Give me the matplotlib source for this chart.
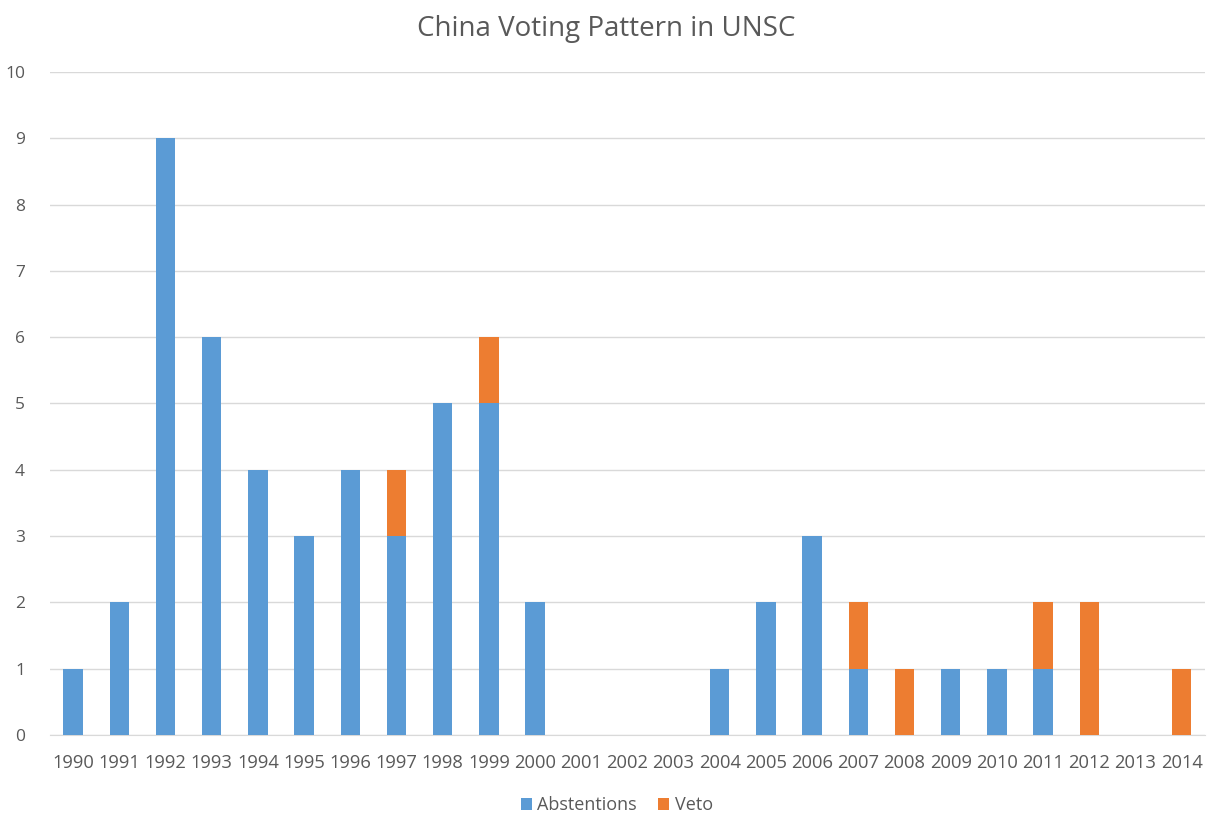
import matplotlib
matplotlib.use("Agg")
import matplotlib.pyplot as plt
import numpy as np

years = [str(y) for y in range(1990, 2015)]
abstentions = [1, 2, 9, 6, 4, 3, 4, 3, 5, 5, 2, 0, 0, 0, 1, 2, 3, 1, 0, 1, 1, 1, 0, 0, 0]
veto =        [0, 0, 0, 0, 0, 0, 0, 1, 0, 1, 0, 0, 0, 0, 0, 0, 0, 1, 1, 0, 0, 1, 2, 0, 1]

plt.rcParams['font.family'] = ['Open Sans', 'DejaVu Sans']
txt = '#595959'

fig = plt.figure(figsize=(12.12, 8.16), dpi=100)
ax = fig.add_axes([0.0413, 0.0993, 0.9527, 0.8125])

x = np.arange(len(years))
w = 0.42
ax.bar(x, abstentions, w, color='#5B9BD5', label='Abstentions', zorder=3)
ax.bar(x, veto, w, bottom=abstentions, color='#ED7D31', label='Veto', zorder=3)

ax.set_xlim(-0.5, len(years) - 0.5)
ax.set_ylim(0, 10)
ax.set_yticks(range(0, 11))
ax.set_xticks(x)
ax.set_xticklabels(years)
ax.yaxis.grid(True, color='#D9D9D9', linewidth=1, zorder=0)
for s in ['top', 'right', 'left']:
    ax.spines[s].set_visible(False)
ax.spines['bottom'].set_color('#D9D9D9')
ax.tick_params(axis='both', length=0, colors=txt, labelsize=12.5)
ax.tick_params(axis='y', pad=18)
ax.tick_params(axis='x', pad=14)
for lab in ax.get_xticklabels():
    lab.set_fontsize(13.2)

fig.text(0.5, 0.964, 'China Voting Pattern in UNSC', ha='center', va='center',
         fontsize=20, color=txt)
fig.legend(loc='center', bbox_to_anchor=(0.509, 0.013), ncol=2, frameon=False,
           fontsize=13, labelcolor=txt, handlelength=0.6, handleheight=0.6,
           handletextpad=0.3, columnspacing=1.2)

fig.savefig('out.png', dpi=100)
